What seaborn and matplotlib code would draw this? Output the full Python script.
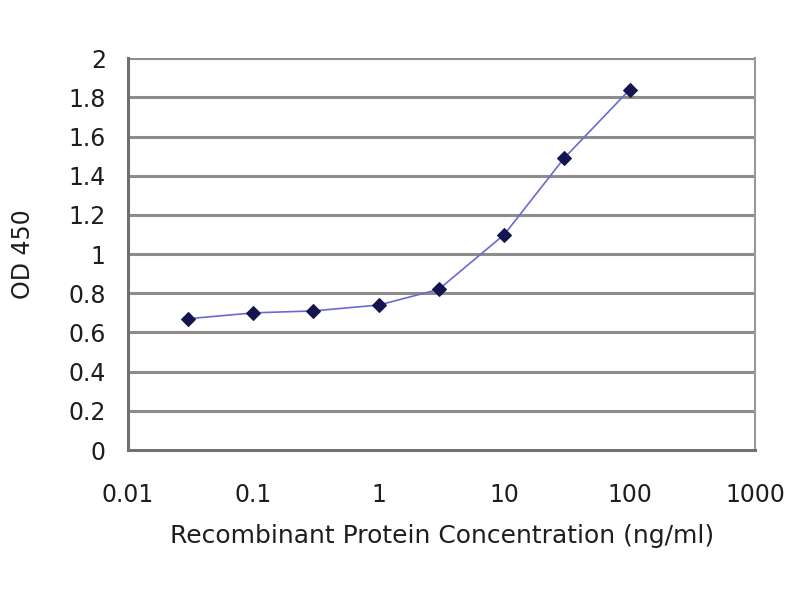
import matplotlib
matplotlib.use("Agg")
import matplotlib.pyplot as plt
import seaborn as sns
import pandas as pd
from matplotlib.ticker import FixedLocator, FixedFormatter

conc = [0.03, 0.1, 0.3, 1, 3, 10, 30, 100]
od450 = [0.67, 0.70, 0.71, 0.74, 0.82, 1.10, 1.49, 1.84]
x_ticks = [0.01, 0.1, 1, 10, 100, 1000]
x_labels = ["0.01", "0.1", "1", "10", "100", "1000"]
y_ticks = [0, 0.2, 0.4, 0.6, 0.8, 1, 1.2, 1.4, 1.6, 1.8, 2]
y_labels = ["0", "0.2", "0.4", "0.6", "0.8", "1", "1.2", "1.4", "1.6", "1.8", "2"]

df = pd.DataFrame({"conc": conc, "od": od450})

sns.set_style("white")
plt.rcParams["font.family"] = ["DejaVu Sans"]

fig = plt.figure(figsize=(8, 6), dpi=100)
ax = fig.add_axes([0.16, 0.25, 0.784, 0.653])

for y in y_ticks[1:]:
    ax.axhline(y, color="#8c8c8c", lw=2.2, zorder=0)

sns.lineplot(data=df, x="conc", y="od", ax=ax, color="#6a6ad0", lw=1.2,
             marker="D", markersize=7, markerfacecolor="#141450",
             markeredgecolor="#141450")

ax.set_xscale("log")
ax.set_xlim(0.01, 1000)
ax.set_ylim(0, 2)
ax.xaxis.set_major_locator(FixedLocator(x_ticks))
ax.xaxis.set_major_formatter(FixedFormatter(x_labels))
ax.xaxis.set_minor_locator(FixedLocator([]))
ax.set_yticks(y_ticks)
ax.set_yticklabels(y_labels)

for side in ["left", "bottom"]:
    ax.spines[side].set_color("#707070")
    ax.spines[side].set_linewidth(2.2)
ax.spines["right"].set_color("#9a9a9a")
ax.spines["right"].set_linewidth(1.5)
ax.spines["top"].set_visible(False)

ax.tick_params(axis="x", direction="in", length=4, color="#707070",
               labelsize=17, pad=24, labelcolor="#1e1e1e")
ax.tick_params(axis="y", length=0, labelsize=17, pad=16, labelcolor="#1e1e1e")

ax.set_xlabel("Recombinant Protein Concentration (ng/ml)", fontsize=18,
              color="#1e1e1e", labelpad=12)
ax.set_ylabel("OD 450", fontsize=17, color="#1e1e1e", labelpad=24)

fig.savefig("out.png", dpi=100)
